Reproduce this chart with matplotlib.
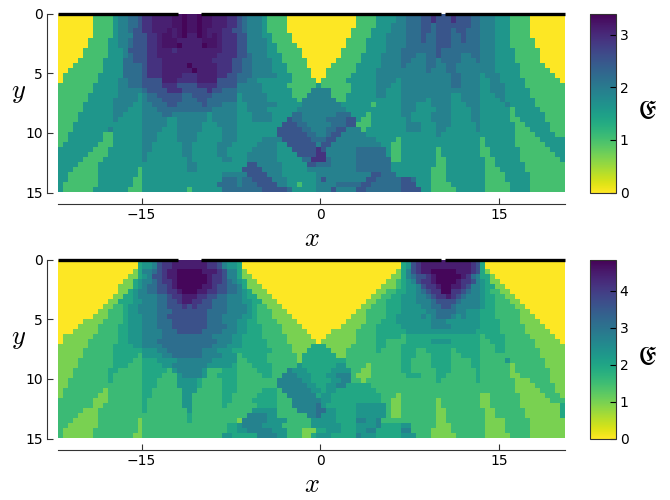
import matplotlib
matplotlib.use("Agg")
import matplotlib.pyplot as plt
import numpy as np

plt.rcParams['mathtext.fontset'] = 'cm'

# one string per row of the grid (y = 0 first): "<first column><level>"
x_range = [-22, 20.5]
y_range = [15, 0]
n_cols = 102

top_levels = {'Y': 0, 'G': 1.0, 'T': 1.62, 'U': 1.9, 'B': 2.18, 'C': 2.5, 'D': 2.9, 'P': 3.1, 'R': 3.22, 'Q': 3.36}
top_rows = [
    "0Y 7G 11T 12U 14B 16C 17D 19P 23R 25Q 26R 28Q 29R 31P 34D 36C 37B 38U 41T 42G 46Y 60G 64T 68U 70B 73C 75D 76C 79D 80C 83B 85U 88T 91G 95Y",
    "0Y 7G 11T 12U 14B 16C 17D 19P 23R 25Q 26R 28Q 29R 31P 34D 36C 37B 38U 41T 42G 46Y 60G 64T 68U 70B 73C 75D 76C 79D 80C 83B 85U 88T 91G 95Y",
    "0Y 7G 11T 12U 14B 16C 17D 19P 23R 25Q 26R 28Q 29R 31P 34D 36C 37B 38U 41T 42G 46Y 60G 64T 67U 70B 73C 75B 76C 83B 85U 88T 91G 95Y",
    "0Y 7G 11T 12U 14B 15C 17D 19P 22R 23P 24R 25Q 26R 28Q 29R 30P 33D 35C 37B 38U 41T 42G 46Y 59G 63T 67U 70B 73C 75B 76C 79B 80C 82B 85U 88T 91G 95Y",
    "0Y 7G 11T 12U 15C 18D 20P 21R 23P 24R 25Q 26P 28Q 29R 30P 31R 32P 33D 36C 38U 41T 43G 47Y 59G 63T 66U 70B 73C 74B 76C 79B 81C 82B 85U 88T 91G 95Y",
    "0Y 6G 10T 12U 14B 15C 18D 20P 21R 24P 29R 32P 33D 36C 38U 42T 43G 47Y 58G 62T 66U 70B 73C 74B 76C 79B 81C 82B 85U 88T 91G 96Y",
    "0Y 6G 10T 12U 14B 15C 18D 20P 21R 24Q 25P 29Q 30R 32P 33D 36C 38U 42T 44G 48Y 58G 62T 66U 70B 74B 76C 79B 82B 85U 88T 91G 96Y",
    "0Y 5G 10T 13U 14C 18D 20P 23D 24P 31P 33D 36C 38U 42T 44G 49Y 57G 62T 66U 69B 76C 77B 85U 88T 92G 97Y",
    "0Y 5G 10T 13U 14B 15C 18D 20P 32D 36C 38B 39U 42T 45G 49Y 57G 61T 65U 69B 72U 74B 76C 77B 81U 83B 85U 88T 92G 97Y",
    "0Y 4G 9T 13B 15C 18D 21P 31D 35C 37B 39U 43T 45G 50Y 56G 61T 65U 69B 71U 74B 76U 77B 81U 84B 85U 88T 92G 97Y",
    "0Y 3G 9T 13B 17C 18D 21P 26Q 27P 32D 35C 37B 39U 43T 46G 50Y 55G 60T 65U 69B 70U 74B 76U 78B 80U 88T 93G 98Y",
    "0Y 2G 9T 13B 17C 18D 21P 26P 27Q 28P 32D 35C 37B 39U 43T 46G 51Y 54G 60T 64U 74B 75U 78B 80U 88T 93G 99Y",
    "0Y 1G 8T 13B 17C 18D 21P 25D 28P 32D 34C 36B 39U 44T 47G 51Y 54G 59T 64U 79B 81U 85T 86U 89T 93G 100Y",
    "0Y 1G 8T 12U 14B 17C 21P 24D 28P 32C 36B 38U 40T 47G 52Y 53G 58T 64U 68T 69U 79B 81U 85T 87U 89T 94G 101Y",
    "0G 7T 12U 14B 17C 21D 24C 28D 32C 36U 41T 46G 52T 53G 59T 64U 67T 69U 79B 81U 85T 87U 90T 94G",
    "0G 7T 12U 17B 18C 22D 25C 30D 31C 33B 36U 41T 47G 51U 55G 59T 64U 66T 69U 85T 87U 90T 95G",
    "0G 6T 12U 16T 17U 18B 20C 25B 27C 31B 36T 37U 42T 47G 50U 55G 58T 64U 66T 69U 79T 81U 85T 88U 90T 95G",
    "0G 6T 11U 16T 17U 18B 21C 25B 28C 30B 36T 37U 42T 48G 49U 56G 58T 69U 74T 75U 79T 81U 85T 89U 90T 96G",
    "0G 5T 11U 15T 17U 19B 22C 24B 29C 30B 33U 36T 38U 44T 49U 57T 63G 64T 69U 72T 75U 79T 82U 85T 90U 91T 96G",
    "0G 5T 11U 14T 17U 20B 31U 36T 38U 42T 48U 58T 69U 72T 76U 79T 83U 85T 91G 92T 97G",
    "0G 4T 11U 13T 17U 21B 23U 30T 31U 36T 39U 43T 47B 49U 56B 59T 62G 63T 69U 71T 75U 79T 83U 85T 91G 92T 98G",
    "0G 4T 11U 12T 17U 22T 24U 30T 31U 36T 39U 43T 46C 47B 49U 54B 58C 60T 61G 63T 70U 71T 75U 79T 83U 85T 91G 93T 98G",
    "0G 3T 17U 22T 24U 29T 32U 36T 45C 48B 50U 55B 58C 60G 63T 70U 73T 76U 79T 84U 85T 92G 94T 99G",
    "0G 3T 10U 11T 17U 21T 24U 29T 33U 36T 44C 49B 51U 54B 56C 58U 61G 62T 70U 73T 76U 78T 84U 85T 92G 95T 99G",
    "0G 2T 9G 11T 17U 20T 24U 28T 33U 36T 44C 50B 52U 54B 55C 57U 62T 76U 77T 92G 96T 100G",
    "0G 2T 9G 11T 17U 20T 24U 28T 33U 36T 41U 45C 51B 54C 56U 64T 68G 69T 85G 86T 92G 97T",
    "0G 1T 8G 11T 17U 19T 25U 27T 32U 35T 40U 44T 46C 52U 53C 55U 65T 67G 69T 85G 86T 92G 98T",
    "0T 7G 10T 17U 19T 25U 27T 32U 34T 39U 44T 47C 52D 53C 54U 60B 66T 67G 69T 76G 77T 85G 87T 93G 99T",
    "0T 6G 10T 17U 18T 25U 27T 32U 34T 38U 44T 48C 52D 54U 60B 66T 67G 69T 76G 77T 85G 87T 93G 100T",
    "0T 5G 9T 17U 18T 26U 27T 33U 35T 38U 44T 49B 51D 54B 55U 60B 67G 69T 76G 78T 86G 88T 93G 101T",
    "0T 4G 8T 26U 28T 38C 40U 45T 50C 52B 55U 60B 67T 76G 78T 86G 88T 94G",
    "0T 3G 8T 16G 17T 26U 28T 37C 41U 45T 50U 60B 67T 75G 78T 86G 89T 94G",
    "0T 2G 8T 16G 17T 33U 38C 42U 45T 52U 63C 65B 68T 75G 78T 86G 90T 95G",
    "0T 2G 8T 15G 17T 33B 36U 37B 39C 43U 46T 52U 53C 54U 62C 64B 69C 71B 72T 75G 78T 86G 90T 95G",
    "0T 1G 8T 15G 17T 32B 36U 37B 40C 44U 46T 48G 49T 52U 56B 61C 63B 69C 72T 75G 79T 86G 91T 95G",
    "0T 1G 7T 14G 17T 26G 27T 33B 41C 46B 47T 52U 55C 56U 60C 62B 69C 73T 75G 80T 86G 91T 95G",
]

bottom_levels = {'Y': 0, 'L': 0.97, 'G': 1.55, 'T': 1.94, 'W': 2.32, 'U': 2.7, 'B': 3.1, 'C': 3.63, 'D': 4.06, 'P': 4.45, 'Q': 4.75}
bottom_rows = [
    "0Y 16T 17W 19U 20C 21D 23P 30D 32C 33U 34W 36T 37Y 69T 70W 71C 72D 73P 83D 84C 85T 86Y",
    "0Y 16T 17W 19U 20C 21D 23P 30D 32C 33U 34W 36T 37Y 69T 70W 71C 72D 73P 83D 84C 85T 86Y",
    "0Y 15L 16T 17U 19B 20C 21D 22P 24Q 29P 32D 33C 34U 36T 37L 38Y 68L 69T 70U 71C 72D 73P 75Q 80P 83D 84C 85T 86L 87Y",
    "0Y 14L 16T 17W 18U 19C 21D 22P 24Q 30P 31D 33C 34U 36T 37L 39Y 67L 69T 70U 71B 72C 74D 75P 76Q 81P 82D 83B 84U 85T 87L 88Y",
    "0Y 13L 15T 16W 17U 19B 20C 21D 23P 24Q 30P 31D 33C 34B 35U 36W 37T 38L 40Y 66L 68G 69T 70W 71U 72C 73D 75P 76Q 80P 81D 83C 84U 85W 86T 87L 89Y",
    "0Y 12L 15T 16W 17U 18B 20C 22D 23P 24Q 29P 31D 32C 34B 36U 37T 38L 41Y 65L 68G 69T 70W 72U 73C 74D 76P 77Q 79P 81D 82C 83U 85W 86T 88L 90Y",
    "0Y 12L 14T 15W 16U 18B 20C 22D 24P 25Q 28P 30D 32C 34B 36U 37W 38T 39L 42Y 64L 66G 68T 70W 72U 73B 74C 75D 77Q 79D 81C 82B 83U 85W 86T 87G 89L 91Y",
    "0Y 11L 13T 15W 16U 20B 22C 23D 25P 28D 30C 32B 34U 37W 38T 40L 43Y 63L 65G 67T 69W 72U 74B 75C 76D 78P 79D 80C 81B 82U 85W 86T 88G 90L 92Y",
    "0Y 10L 12T 15W 17U 20B 22C 24D 25P 27D 29C 31B 34U 37W 39T 41L 44Y 62L 64G 66T 69W 72U 75B 76C 80B 81U 85W 86T 88G 91L 93Y",
    "0Y 9L 11G 13T 14W 16U 20B 22C 25D 26C 27D 28C 31B 34U 38W 39T 40G 42L 45Y 61L 63G 66T 69W 73U 75B 77C 79B 80U 85W 86T 88G 92L 94Y",
    "0Y 8L 10G 13T 14W 16U 20B 23C 30B 34U 38W 39T 40G 43L 46Y 60L 62G 66T 69W 74U 76B 80U 82W 85T 88G 93L 95Y",
    "0Y 7L 10G 13T 14W 17U 20B 22C 30B 33U 37W 39T 40G 43L 47Y 59L 62G 66T 68W 73U 74W 75U 76B 79U 80W 81U 82W 85T 88G 93L 96Y",
    "0Y 5L 9G 13T 14W 17U 20B 23C 30B 33U 36W 38T 40G 44L 48Y 58L 62G 65T 68W 75U 78W 85T 89G 93L 97Y",
    "0Y 4L 8G 12T 14W 17U 20B 23C 30B 34U 36W 38T 41G 45L 49Y 57L 61G 64T 69W 75U 79W 85T 89G 94L 98Y",
    "0Y 3L 8G 12T 14W 17U 21B 24C 29B 33U 36W 38T 41G 45L 50Y 55L 60G 64T 70W 84T 89G 94L 99Y",
    "0Y 1L 7G 12T 14W 17U 21B 31U 35W 37T 41G 46L 51Y 54L 60G 64T 69G 70T 85G 86T 90G 95L 100Y",
    "0Y 1L 6G 12T 14W 17U 20B 32U 35W 37T 42G 46L 52Y 53L 60G 64T 66G 70T 75W 79T 85G 87T 90G 96L 101Y",
    "0L 6G 11T 15W 17U 21B 31U 34W 37T 42G 47L 51T 54L 59G 64T 66G 69T 85G 88T 90G 96L",
    "0L 5G 11T 17W 20U 22B 29U 32W 35T 43G 47L 50T 55L 58G 64T 65G 69T 72G 74T 79G 80T 85G 88T 90G 97L",
    "0L 5G 11T 16G 17W 21U 23B 29U 33W 36G 37T 42G 48L 49T 56L 58G 69T 72G 75T 79G 81T 85G 97L",
    "0L 4G 11T 15G 17T 20W 24U 31W 36G 38T 42G 48L 49T 58G 69T 71G 75T 79G 83T 85G 90W 91G 98L",
    "0L 4G 11T 14G 17T 21W 23U 30W 35T 36G 39T 43G 48W 49T 56W 58G 62L 63G 69T 71G 75T 79G 83T 85G 91L 92G 98L",
    "0L 3G 10T 12G 17T 22G 23W 24U 29W 30G 33T 36G 40T 43G 46U 47W 50T 55W 59G 61L 63G 69T 71G 76T 79G 84T 85G 91L 92G 99L",
    "0L 3G 10T 11G 17T 21G 24W 25U 29W 30G 32T 36G 41T 43G 45U 48W 51T 54W 56U 59G 60L 63G 70T 73G 76T 78G 84T 85G 91L 93G 99L",
    "0L 2G 10T 11G 17T 20G 24W 28T 29G 33T 36G 44U 49W 51T 55W 57U 59G 61L 62G 76T 77G 84T 85G 92L 95G 99L",
    "0L 2G 17T 20G 24W 28T 29G 33T 36G 44U 50W 52T 54W 56U 58T 63G 85G 92L 96G 100L",
    "0L 1G 9L 10G 17T 19G 25W 28G 33T 36G 41T 44G 45U 51W 53T 54W 56T 64G 92L 97G 100L",
    "0L 1G 8L 10G 17T 19G 25W 27G 33T 35G 40T 44G 46U 52T 53W 55T 65G 68L 69G 85L 87G 93L 98G 101L",
    "0G 7L 10G 17T 18G 25W 27G 33T 35G 39T 44G 47U 53W 55T 65G 67L 69G 76L 77G 85L 87G 93L 99G",
    "0G 7L 9G 17T 18G 25W 27G 33T 34G 40T 44G 47U 52B 53W 54T 60W 66G 67L 69G 76L 77G 85L 87G 93L 101T",
    "0G 5L 8G 17T 18G 26W 27G 39W 44G 48U 52B 54W 56T 60W 66G 67L 69G 76L 78G 86L 88G 94L 101T",
    "0G 4L 8G 26T 27G 38U 42W 44G 50U 52B 53W 56T 60W 66G 67L 69G 76L 78G 86L 88G 94L 101T",
    "0G 3L 8G 16L 17G 26T 27G 36L 37U 42W 46G 51W 56T 60U 62W 64U 65G 76L 78G 86L 90G 95L",
    "0G 2L 8G 16L 17G 34T 36W 37U 41W 45G 51W 57T 60W 64U 65T 69W 71G 76L 79G 86L 90G 95L",
    "0G 1L 7G 16L 17G 34T 36W 38U 43W 46G 49L 52T 54W 57T 60W 62U 64T 69U 71G 75L 79G 86L 90G 95L",
    "0G 1L 7G 15L 17G 33W 35T 40U 44W 46G 49L 51T 52W 55T 60U 61W 64T 69W 72G 75L 80G 86L 91G 95L",
]
top_vmax = 3.4
bottom_vmax = 4.84
top_ticks = [0, 1, 2, 3]
bottom_ticks = [0, 1, 2, 3, 4]
x_ticks = [-15, 0, 15]
y_ticks = [0, 5, 10, 15]
# the reflecting wall at y = 0, with its openings
wall_pieces = [[-22, -11.9], [-10.05, 10.14], [10.4, 20.5]]


def read_rows(rows, levels):
    grid = np.zeros((len(rows), n_cols))
    for i, row in enumerate(rows):
        parts = row.split()
        for j, part in enumerate(parts):
            start = int(part[:-1])
            end = int(parts[j + 1][:-1]) if j + 1 < len(parts) else n_cols
            grid[i, start:end] = levels[part[-1]]
    return grid


def panel(y0, y1, grid, vmax, ticks):
    ax = fig.add_axes([58 / 670, 1 - y1 / 500, 507 / 670, (y1 - y0) / 500])
    im = ax.imshow(grid, cmap='viridis_r', vmin=0, vmax=vmax, aspect='auto',
                   interpolation='nearest', extent=x_range + y_range)
    for a, b in wall_pieces:
        ax.plot([a, b], [0, 0], color='black', lw=2.4, solid_capstyle='butt', clip_on=False)
    ax.set_xlim(x_range)
    ax.set_ylim(y_range)
    ax.set_xticks(x_ticks, ['\u221215', '0', '15'])
    ax.set_yticks(y_ticks)
    ax.tick_params(direction='in', labelsize=10, length=4, width=0.8, color='#333333', pad=3)
    ax.spines['top'].set_visible(False)
    ax.spines['right'].set_visible(False)
    ax.spines['left'].set_position(('outward', 8))
    ax.spines['bottom'].set_position(('outward', 8))
    ax.spines['left'].set_color('#333333')
    ax.spines['bottom'].set_color('#333333')
    ax.set_xlabel('$x$', fontsize=19, labelpad=3)
    ax.set_ylabel('$y$', fontsize=19, rotation=0, labelpad=5, va='center', y=0.56)

    cax = fig.add_axes([590 / 670, 1 - y1 / 500, 25.5 / 670, (y1 - y0) / 500])
    cb = fig.colorbar(im, cax=cax, ticks=ticks)
    cb.ax.tick_params(direction='in', labelsize=10, length=4, width=0.8, pad=3)
    cb.outline.set_edgecolor('#333333')
    fig.text(647 / 670, 1 - (y0 + y1 + 18) / 2 / 500, r'$\mathfrak{E}$', fontsize=18, ha='center', va='center')


fig = plt.figure(figsize=(6.7, 5), dpi=100)
panel(13.5, 192.5, read_rows(top_rows, top_levels), top_vmax, top_ticks)
panel(259.5, 438.5, read_rows(bottom_rows, bottom_levels), bottom_vmax, bottom_ticks)
plt.savefig('out.png', dpi=100)
